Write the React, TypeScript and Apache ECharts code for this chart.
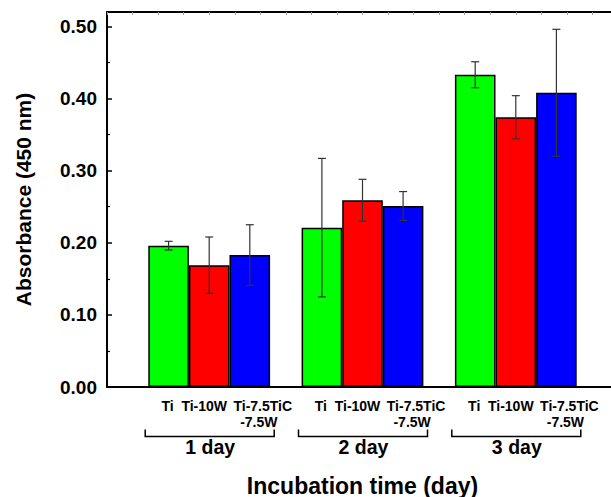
import React, { useEffect, useRef } from "react";
import * as echarts from "echarts";

// ---- data ----
const days = ["1 day", "2 day", "3 day"];
const groupPos = [1, 2, 3];
const materials = ["Ti", "Ti-10W", "Ti-7.5TiC\n-7.5W"];
const tiMean = [0.196, 0.221, 0.433];
const tiErr = [0.006, 0.096, 0.018];
const ti10wMean = [0.169, 0.259, 0.374];
const ti10wErr = [0.039, 0.029, 0.03];
const tiTicWMean = [0.183, 0.251, 0.408];
const tiTicWErr = [0.042, 0.02, 0.088];
const yTickStep = 0.1;

const FONT = '"Liberation Sans", Arial, Helvetica, sans-serif';
const BAR_W = 40.6;
const colors = ["#00ff00", "#ff0000", "#0000ff"];

export default function App() {
  const ref = useRef<HTMLDivElement>(null);

  useEffect(() => {
    if (!ref.current) return;
    const chart = echarts.init(ref.current, null, { renderer: "svg" });

    const means = [tiMean, ti10wMean, tiTicWMean];
    const errs = [tiErr, ti10wErr, tiTicWErr];
    const labelOffsets = [-1, -5, 13];

    const barSeries = materials.map((name, s) => ({
      type: "bar",
      name,
      xAxisIndex: 0,
      yAxisIndex: 0,
      barWidth: BAR_W,
      barGap: "0%",
      data: groupPos.map((x, i) => [x, means[s][i]]),
      itemStyle: { color: colors[s], borderColor: "#000", borderWidth: 1.5 },
      label: {
        show: true,
        position: "bottom",
        distance: 10.5,
        offset: [labelOffsets[s], 0],
        color: "#000",
        fontFamily: FONT,
        fontWeight: "bold",
        fontSize: 14,
        lineHeight: 16,
        formatter: s === 2 ? "{a|Ti-7.5TiC}\n{b|-7.5W}" : name,
        rich: {
          a: { fontFamily: FONT, fontWeight: "bold", fontSize: 14, lineHeight: 16, color: "#000" },
          b: {
            fontFamily: FONT,
            fontWeight: "bold",
            fontSize: 14,
            lineHeight: 16,
            color: "#000",
            padding: [0, 8, 0, 0],
          },
        },
      },
      z: 2,
    }));

    const errData: number[][] = [];
    materials.forEach((_, s) => {
      groupPos.forEach((x, i) => errData.push([x, s, means[s][i], errs[s][i]]));
    });

    const errorSeries = {
      type: "custom",
      xAxisIndex: 0,
      yAxisIndex: 0,
      z: 5,
      clip: false,
      data: errData,
      encode: { x: 0, y: 2 },
      renderItem: (_p: any, api: any) => {
        const x = api.value(0);
        const s = api.value(1);
        const m = api.value(2);
        const e = api.value(3);
        const top = api.coord([x, m + e]);
        const bot = api.coord([x, m - e]);
        const cx = top[0] + (s - 1) * BAR_W;
        const style = { stroke: "#333", lineWidth: 1.2 };
        const cap = 4;
        return {
          type: "group",
          children: [
            { type: "line", shape: { x1: cx, y1: top[1], x2: cx, y2: bot[1] }, style },
            { type: "line", shape: { x1: cx - cap, y1: top[1], x2: cx + cap, y2: top[1] }, style },
            { type: "line", shape: { x1: cx - cap, y1: bot[1], x2: cx + cap, y2: bot[1] }, style },
          ],
        };
      },
    };

    const bracketSeries = {
      type: "custom",
      xAxisIndex: 0,
      yAxisIndex: 0,
      z: 5,
      clip: false,
      silent: true,
      data: groupPos.map((x, i) => [x, 0, i]),
      encode: { x: 0, y: 1 },
      renderItem: (_p: any, api: any) => {
        const x = api.value(0);
        const i = api.value(2);
        const c = api.coord([x, 0]);
        const yb = c[1] + 49.5;
        const yt = c[1] + 42.5;
        const l = c[0] - 64;
        const r = c[0] + 65;
        return {
          type: "group",
          children: [
            {
              type: "polyline",
              shape: { points: [[l, yt], [l, yb], [r, yb], [r, yt]] },
              style: { stroke: "#000", lineWidth: 1.5, fill: null },
            },
            {
              type: "text",
              x: c[0] + 1,
              y: c[1] + 60,
              style: {
                text: days[i],
                fill: "#000",
                font: `bold 19.5px ${FONT}`,
                textAlign: "center",
                textVerticalAlign: "middle",
              },
            },
          ],
        };
      },
    };

    chart.setOption({
      animation: false,
      backgroundColor: "#fff",
      grid: {
        left: 107,
        right: -7,
        top: 12,
        bottom: 110,
        containLabel: false,
        outerBoundsMode: "none",
      },
      xAxis: [
        {
          type: "value",
          min: 1 / 3,
          max: 11 / 3,
          interval: 1 / 6,
          position: "bottom",
          name: "Incubation time (day)",
          nameLocation: "middle",
          nameGap: 87,
          nameTextStyle: { fontFamily: FONT, fontWeight: "bold", fontSize: 23, color: "#000" },
          axisLine: { show: true, lineStyle: { color: "#000", width: 2 } },
          axisTick: { show: false },
          axisLabel: { show: false },
          splitLine: { show: false },
        },
        {
          type: "value",
          min: 1 / 3,
          max: 11 / 3,
          interval: 1 / 6,
          position: "top",
          axisLine: { show: true, lineStyle: { color: "#000", width: 2 } },
          axisTick: { show: true, inside: true, length: 3, lineStyle: { color: "#999", width: 1 } },
          axisLabel: { show: false },
          splitLine: { show: false },
        },
      ],
      yAxis: {
        type: "value",
        min: 0,
        max: 0.52,
        interval: yTickStep,
        name: "Absorbance (450 nm)",
        nameLocation: "middle",
        nameGap: 73,
        nameTextStyle: { fontFamily: FONT, fontWeight: "bold", fontSize: 21, color: "#000" },
        axisLine: { show: true, lineStyle: { color: "#000", width: 2 } },
        axisTick: { show: true, inside: true, length: 5, lineStyle: { color: "#000", width: 1.5 } },
        minorTick: { show: true, splitNumber: 2, length: 3, lineStyle: { color: "#000", width: 1.2 } },
        axisLabel: {
          fontFamily: FONT,
          fontWeight: "bold",
          fontSize: 19,
          color: "#000",
          margin: 10,
          showMaxLabel: false,
          formatter: (v: number) => v.toFixed(2),
        },
        splitLine: { show: false },
      },
      series: [...barSeries, errorSeries, bracketSeries],
    } as any);

    return () => chart.dispose();
  }, []);

  return (
    <div
      ref={ref}
      style={{ position: "fixed", left: 0, top: 0, width: 611, height: 497, background: "#fff" }}
    />
  );
}
